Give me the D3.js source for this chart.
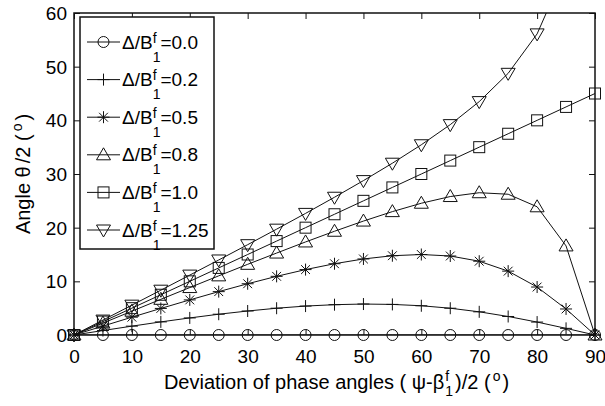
<!DOCTYPE html>
<html><head><meta charset="utf-8">
<script src="https://cdn.jsdelivr.net/npm/d3@7"></script>
<style>
body{margin:0;background:#fff}
svg{display:block}
text{font-family:"Liberation Sans",Arial,Helvetica,sans-serif;fill:#000;white-space:pre}
</style>
</head><body>
<svg id="chart" width="605" height="406"></svg>
<script>
// ---- data ----
const xValues = [0,5,10,15,20,25,30,35,40,45,50,55,60,65,70,75,80,85,90];
const ratio00  = [0,0,0,0,0,0,0,0,0,0,0,0,0,0,0,0,0,0,0];
const ratio02  = [0,0.83,1.65,2.44,3.18,3.87,4.47,4.99,5.39,5.65,5.77,5.70,5.45,4.99,4.32,3.45,2.41,1.24,0];
const ratio05  = [0,1.66,3.32,4.95,6.54,8.08,9.55,10.93,12.19,13.28,14.17,14.77,15.00,14.72,13.75,11.90,8.94,4.85,0];
const ratio08  = [0,2.22,4.44,6.65,8.84,11.02,13.17,15.27,17.34,19.33,21.23,22.99,24.55,25.80,26.51,26.23,23.89,16.60,0];
const ratio10  = [0,2.5,5,7.5,10,12.5,15,17.5,20,22.5,25,27.5,30,32.5,35,37.5,40,42.5,45];
const ratio125 = [0,2.78,5.56,8.35,11.16,13.98,16.83,19.72,22.66,25.67,28.77,32.01,35.45,39.20,43.49,48.76,56.11,68.39,90];
const seriesLabels = ["0.0","0.2","0.5","0.8","1.0","1.25"];
const seriesMarkers = ["circle","plus","star","triUp","square","triDown"];
const xTicks = [0,10,20,30,40,50,60,70,80,90];
const yTicks = [0,10,20,30,40,50,60];

const seriesValues = [ratio00, ratio02, ratio05, ratio08, ratio10, ratio125];

// ---- layout ----
const svg = d3.select("#chart");
const L = 74, R = 595, T = 13, B = 335;
const x = d3.scaleLinear().domain([0,90]).range([L,R]);
const y = d3.scaleLinear().domain([0,60]).range([B,T]);
const ink = "#111";

svg.append("defs").append("clipPath").attr("id","plotclip")
  .append("rect").attr("x",L).attr("y",T).attr("width",R-L).attr("height",B-T);

// axes (inward ticks on all four sides, MATLAB box style)
const tickFs = 19;
const gx = svg.append("g").attr("transform",`translate(0,${B})`)
  .call(d3.axisBottom(x).tickValues(xTicks).tickSizeInner(-6).tickSizeOuter(0).tickPadding(0));
gx.selectAll("text").attr("y",28).attr("dy",null).style("font-size",tickFs+"px");
const gy = svg.append("g").attr("transform",`translate(${L},0)`)
  .call(d3.axisLeft(y).tickValues(yTicks).tickSizeInner(-6).tickSizeOuter(0).tickPadding(0));
gy.selectAll("text").attr("x",-7).attr("dy","0.35em").style("font-size",tickFs+"px");
const gt = svg.append("g").attr("transform",`translate(0,${T})`)
  .call(d3.axisTop(x).tickValues(xTicks).tickSizeInner(-6).tickSizeOuter(0).tickFormat(""));
const gr = svg.append("g").attr("transform",`translate(${R},0)`)
  .call(d3.axisRight(y).tickValues(yTicks).tickSizeInner(-6).tickSizeOuter(0).tickFormat(""));
[gx,gy,gt,gr].forEach(g=>{
  g.select(".domain").remove();
  g.selectAll("line").attr("stroke",ink).attr("stroke-width",1);
  g.attr("font-family",null).attr("font-size",null);
});

// markers
function marker(g, type, cx, cy){
  let el;
  if(type==="circle"){ el=g.append("circle").attr("cx",cx).attr("cy",cy).attr("r",5.5); }
  else if(type==="plus"){ el=g.append("path").attr("d",`M${cx-6},${cy}H${cx+6}M${cx},${cy-6}V${cy+6}`); }
  else if(type==="star"){ const d=4.4; el=g.append("path").attr("d",`M${cx-6},${cy}H${cx+6}M${cx},${cy-6}V${cy+6}M${cx-d},${cy-d}L${cx+d},${cy+d}M${cx-d},${cy+d}L${cx+d},${cy-d}`); }
  else if(type==="square"){ el=g.append("rect").attr("x",cx-5.5).attr("y",cy-5.5).attr("width",11).attr("height",11); }
  else if(type==="triUp"){ el=g.append("path").attr("d",`M${cx},${cy-7}L${cx+7},${cy+5}L${cx-7},${cy+5}Z`); }
  else if(type==="triDown"){ el=g.append("path").attr("d",`M${cx},${cy+7}L${cx+7},${cy-5}L${cx-7},${cy-5}Z`); }
  el.attr("fill","none").attr("stroke",ink).attr("stroke-width",1);
}

// series
const line = d3.line().x((d,i)=>x(xValues[i])).y(d=>y(d));
seriesValues.forEach((vals,si)=>{
  const g = svg.append("g");
  g.append("path").datum(vals).attr("d",line).attr("fill","none")
    .attr("stroke",ink).attr("stroke-width",1).attr("clip-path","url(#plotclip)");
  vals.forEach((v,i)=>{ if(v<=60) marker(g, seriesMarkers[si], x(xValues[i]), y(v)); });
});

// frame
svg.append("rect").attr("x",L).attr("y",T).attr("width",R-L).attr("height",B-T)
  .attr("fill","none").attr("stroke",ink).attr("stroke-width",1.5);

// rich text helper: segments are strings, numbers (gaps) or {sup, sub}
function rich(g, segs, fs, sfs, supDy, subDy){
  let cx = 0;
  segs.forEach(s=>{
    if(typeof s === "number"){ cx += s; }
    else if(typeof s === "string"){
      const t = g.append("text").attr("x",cx).attr("y",0).style("font-size",fs+"px").text(s);
      cx += t.node().getComputedTextLength();
    } else {
      let w = 0;
      if(s.sup!=null){ const t=g.append("text").attr("x",cx).attr("y",supDy).style("font-size",sfs+"px").text(s.sup); w=Math.max(w,t.node().getComputedTextLength()); }
      if(s.sub!=null){ const t=g.append("text").attr("x",cx).attr("y",subDy).style("font-size",sfs+"px").text(s.sub); w=Math.max(w,t.node().getComputedTextLength()); }
      cx += w;
    }
  });
  return cx;
}

// legend
const lg = svg.append("g");
lg.append("rect").attr("x",80).attr("y",17).attr("width",134).attr("height",232)
  .attr("fill","#fff").attr("stroke",ink).attr("stroke-width",1.5);
seriesLabels.forEach((lab,i)=>{
  const cy = 42 + i*37.6;
  lg.append("line").attr("x1",87).attr("x2",120).attr("y1",cy).attr("y2",cy)
    .attr("stroke",ink).attr("stroke-width",1);
  marker(lg, seriesMarkers[i], 103.5, cy);
  const tg = lg.append("g").attr("transform",`translate(122,${cy+6.5})`);
  rich(tg, ["\u0394/B", {sup:"f", sub:"1"}, "="+lab], 19, 14, -6, 13);
});

// x title
const xt = svg.append("g");
const xw = rich(xt, ["Deviation of phase angles ( \u03C8-\u03B2", 1, {sup:"f", sub:"1"}, 2, ")/2 (", 2, {sup:"o"}, 2, ")"], 20, 14, -8, 7);
xt.attr("transform",`translate(${(L+R)/2 + 2 - xw/2},389)`);

// y title
const yt = svg.append("g");
const yw = rich(yt, ["Angle \u03B8", 3, "/2 (", 3, {sup:"o"}, 3, ")"], 20, 14, -8, 7);
yt.attr("transform",`translate(30,${(T+B)/2}) rotate(-90) translate(${-yw/2},0)`);
</script>
</body></html>
